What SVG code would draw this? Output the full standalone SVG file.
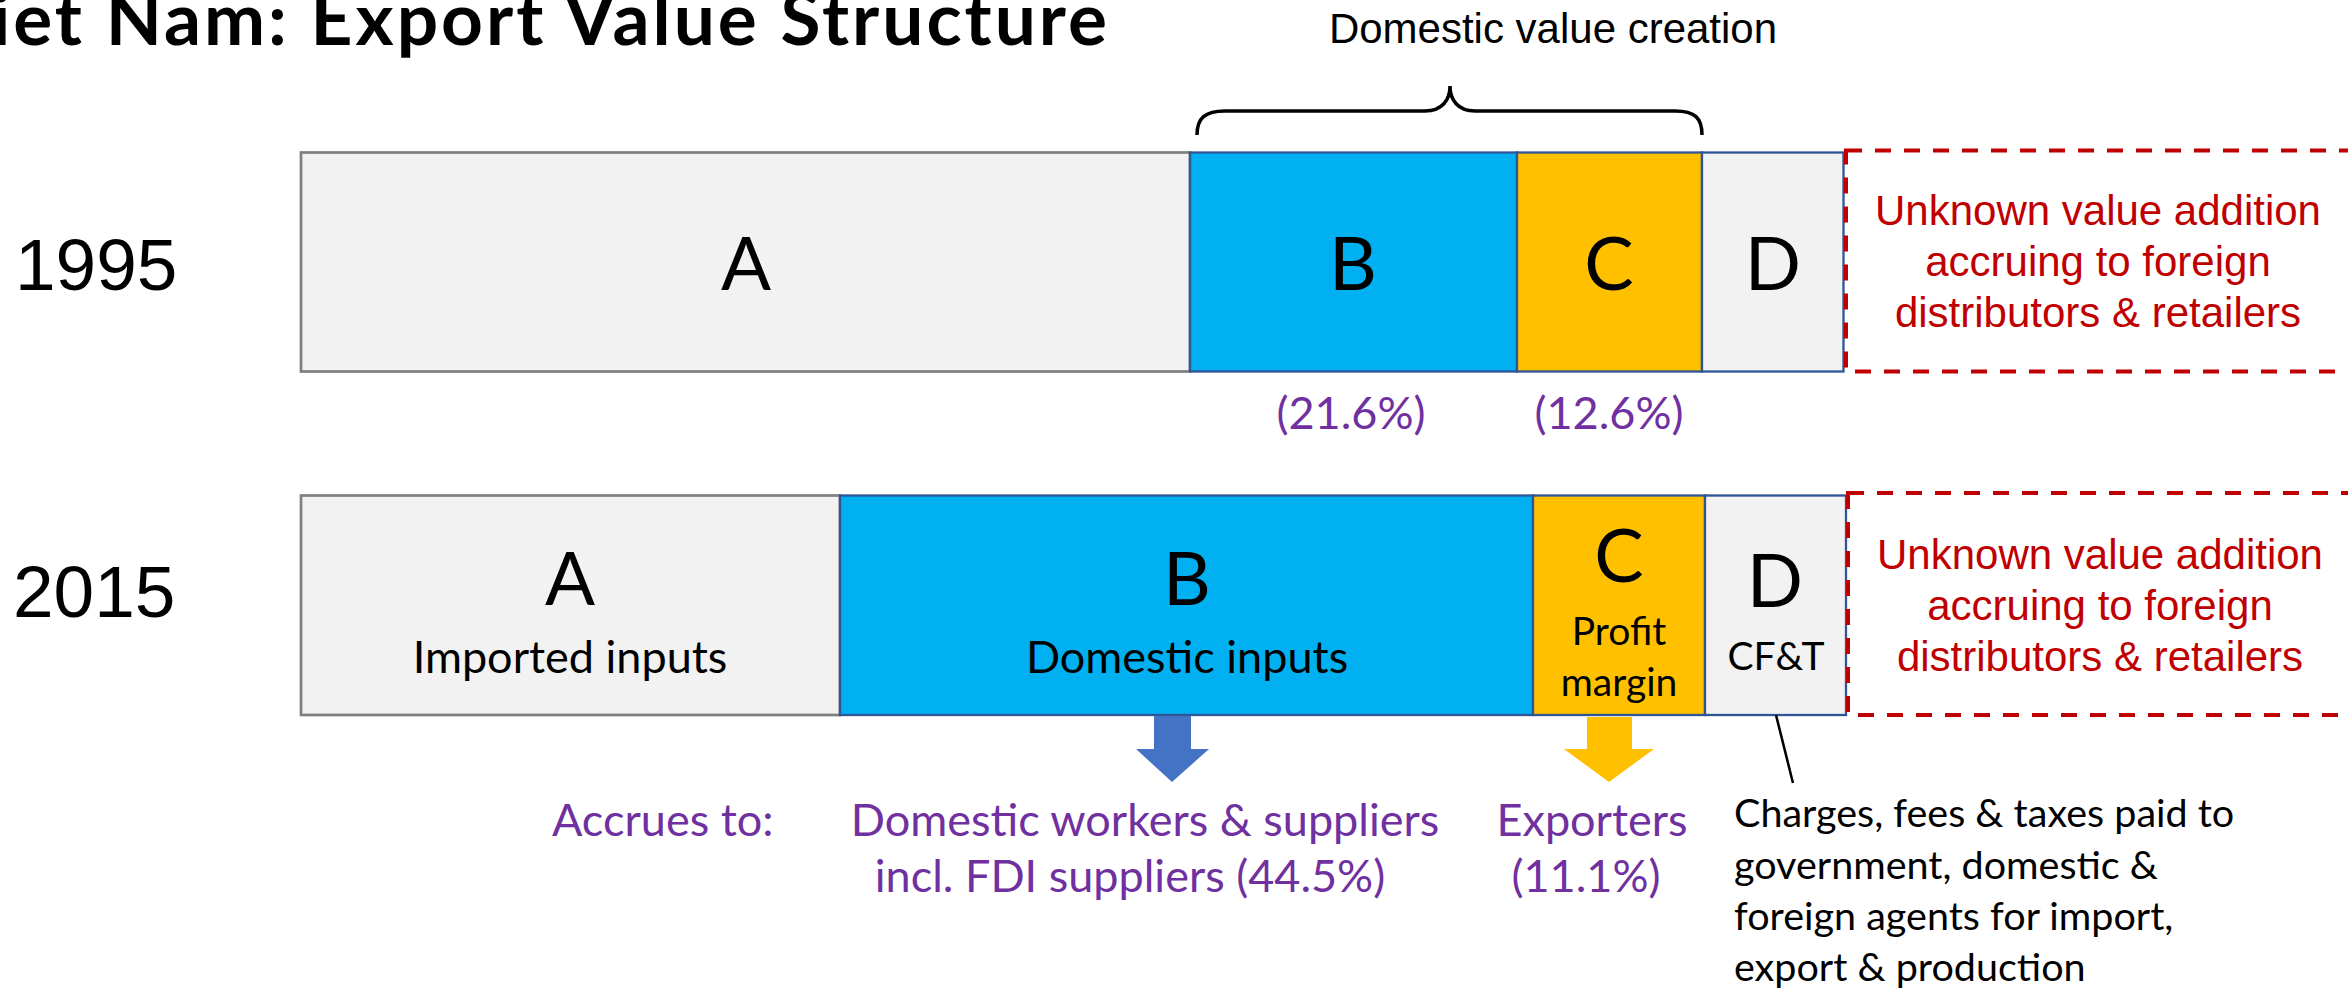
<svg xmlns="http://www.w3.org/2000/svg" width="2348" height="989" viewBox="0 0 2348 989">
<style>
.ar{font-family:"Liberation Sans",Arial,sans-serif;}
.ca{font-family:Lato,"Open Sans",sans-serif;}
.grey{fill:#F2F2F2;stroke:#7F7F7F;stroke-width:2.7;}
.greyd{fill:#F2F2F2;stroke:#2F5597;stroke-width:2.3;}
.blue{fill:#00B0F0;stroke:#2F5597;stroke-width:2.3;}
.gold{fill:#FFC000;stroke:#2F5597;stroke-width:2.3;}
.dash{fill:none;stroke:#C00000;stroke-width:4;stroke-dasharray:16 13;}
.big{font-size:74px;fill:#000;text-anchor:middle;}
.sub{font-size:45px;fill:#000;text-anchor:middle;}
.sub2{font-size:39px;fill:#000;text-anchor:middle;}
.red{font-size:42px;fill:#C00000;text-anchor:middle;}
.pur{font-size:45px;fill:#7030A0;}
.mid{text-anchor:middle;}
.year{font-size:73px;fill:#000;}
.note{font-size:39.5px;fill:#000;}
</style>
<text id="title" class="ca" x="-62" y="45" font-size="73" font-weight="bold" fill="#000" textLength="1169" lengthAdjust="spacing">Viet Nam: Export Value Structure</text>

<g id="brace">
<path d="M1197,135 C1197,118 1205,111 1225,111 L1425,111 C1442,111 1450,100 1450,86 C1450,100 1458,111 1475,111 L1675,111 C1695,111 1702,118 1702,135" fill="none" stroke="#000" stroke-width="3.5"/>
<text class="ar mid" x="1553" y="43" font-size="42" fill="#000">Domestic value creation</text>
</g>

<g id="row1995">
<text id="y1995" class="ar year" x="15" y="290">1995</text>
<g id="a1995"><rect class="grey" x="301" y="152.5" width="889" height="219"/><text class="ca big" x="746" y="290">A</text></g>
<g id="b1995"><rect class="blue" x="1190" y="152.5" width="327" height="219"/><text class="ca big" x="1353" y="290">B</text></g>
<g id="c1995"><rect class="gold" x="1517" y="152.5" width="185" height="219"/><text class="ca big" x="1609" y="290">C</text></g>
<g id="d1995"><rect class="greyd" x="1702" y="152.5" width="141.5" height="219"/><text class="ca big" x="1773" y="290">D</text></g>
<g id="u1995">
<rect class="dash" x="1846" y="150.5" width="540" height="221"/>
<text class="ar red" x="2098" y="225">Unknown value addition</text>
<text class="ar red" x="2098" y="276">accruing to foreign</text>
<text class="ar red" x="2098" y="327">distributors &amp; retailers</text>
</g>
<text class="ca pur mid" x="1351" y="429">(21.6%)</text>
<text class="ca pur mid" x="1609" y="429">(12.6%)</text>
</g>

<g id="row2015">
<text id="y2015" class="ar year" x="13" y="617">2015</text>
<g id="a2015"><rect class="grey" x="301" y="495.5" width="539" height="219.5"/><text class="ca big" x="570" y="605">A</text><text class="ca sub" x="570" y="673">Imported inputs</text></g>
<g id="b2015"><rect class="blue" x="840" y="495.5" width="693" height="219.5"/><text class="ca big" x="1187" y="605">B</text><text class="ca sub" x="1187" y="673">Domestic inputs</text></g>
<g id="c2015"><rect class="gold" x="1533" y="495.5" width="172" height="219.5"/><text class="ca big" x="1619" y="582">C</text><text class="ca sub2" x="1619" y="645">Profit</text><text class="ca sub2" x="1619" y="696">margin</text></g>
<g id="d2015"><rect class="greyd" x="1705" y="495.5" width="141" height="219.5"/><text class="ca big" x="1775" y="607">D</text><text class="ca sub2" x="1776" y="670">CF&amp;T</text></g>
<g id="u2015">
<rect class="dash" x="1848" y="493" width="540" height="222"/>
<text class="ar red" x="2100" y="569">Unknown value addition</text>
<text class="ar red" x="2100" y="620">accruing to foreign</text>
<text class="ar red" x="2100" y="671">distributors &amp; retailers</text>
</g>
</g>

<g id="connectors">
<polygon points="1154,716 1191,716 1191,749 1209,749 1172,782 1136,749 1154,749" fill="#4472C4"/>
<polygon points="1587,717 1632,717 1632,749 1654,749 1609,782 1564,749 1587,749" fill="#FFC000"/>
<line x1="1776" y1="715" x2="1793" y2="783" stroke="#000" stroke-width="2.5"/>
</g>

<g id="labels">
<text class="ca pur" x="552" y="836">Accrues to:</text>
<text class="ca pur mid" x="1145" y="836">Domestic workers &amp; suppliers</text>
<text class="ca pur mid" x="1130" y="892">incl. FDI suppliers (44.5%)</text>
<text class="ca pur mid" x="1592" y="836">Exporters</text>
<text class="ca pur mid" x="1586" y="892">(11.1%)</text>
<text class="ca note" x="1734" y="827">Charges, fees &amp; taxes paid to</text>
<text class="ca note" x="1734" y="879">government, domestic &amp;</text>
<text class="ca note" x="1734" y="930">foreign agents for import,</text>
<text class="ca note" x="1734" y="981">export &amp; production</text>
</g>
</svg>
